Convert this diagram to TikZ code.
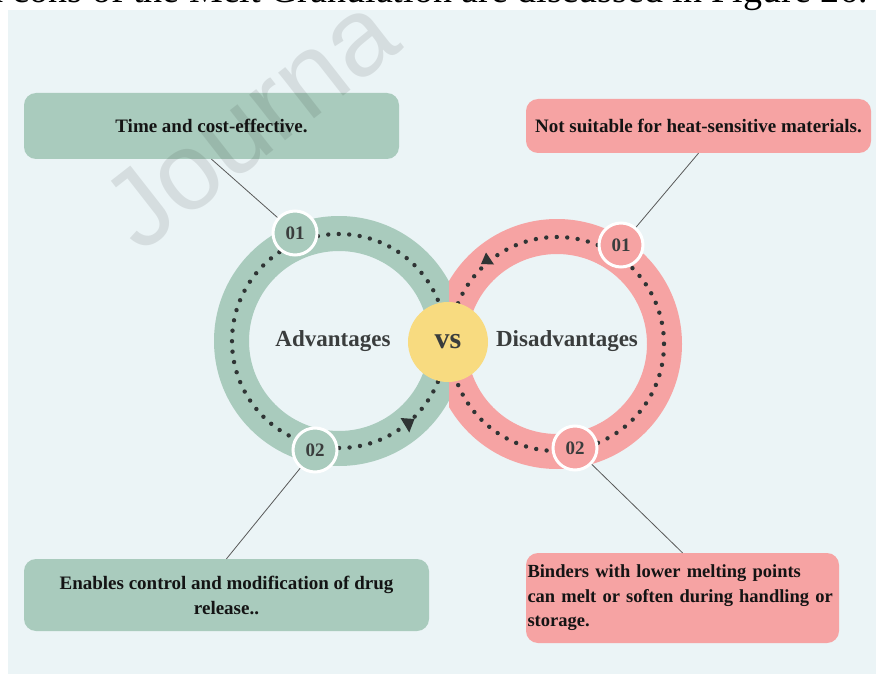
\documentclass[tikz,border=0pt]{standalone}
\usepackage{fontspec}
\setmainfont{Liberation Serif}
\newfontfamily\wmfont{Liberation Sans}
\definecolor{panel}{HTML}{EBF4F6}
\definecolor{ringgreen}{HTML}{A9CBBD}
\definecolor{ringpink}{HTML}{F6A3A3}
\definecolor{vsyellow}{HTML}{F8DB80}
\definecolor{dotc}{HTML}{2F3434}
\definecolor{labelc}{HTML}{3A3D3D}
\definecolor{boxtext}{HTML}{141414}
\begin{document}
\begin{tikzpicture}[x=1pt,y=-1pt,
  infobox/.style={rounded corners=12pt, inner sep=3pt, font=\bfseries\fontsize{19}{25}\selectfont, text=boxtext},
  numnode/.style={circle, draw=white, line width=3pt, minimum size=44pt, inner sep=0pt,
                  font=\bfseries\fontsize{19}{19}\selectfont, text=labelc},
  ringdots/.style={dotc, line width=4.4pt, line cap=round, dash pattern=on 0pt off 10.5pt},
  conn/.style={draw=black!65, line width=0.8pt},
  centerlabel/.style={font=\bfseries\fontsize{23}{23}\selectfont, text=labelc}]
\useasboundingbox (0,0) rectangle (876,674);
\clip (0,0) rectangle (876,674);
\fill[white] (0,0) rectangle (876,674);
\fill[panel] (8,10) rectangle (876,674);

% running text of the page above the figure
\node[anchor=base east, inner sep=0pt, font=\fontsize{38}{40}\selectfont] (head) at (868,3)
  {The pros and cons of the Melt Granulation are discussed in Figure 26.};

% ring centres
\coordinate (gc) at (339,341);
\coordinate (pc) at (557,344);

% green ring with its dotted track
\fill[ringgreen, even odd rule] (gc) circle (125) (gc) circle (90);
\draw[ringdots] (gc) circle (107);

% pink ring, laid over the green one right of the crossing
\begin{scope}
  \clip (449,0) rectangle (876,674);
  \fill[ringpink, even odd rule] (pc) circle (125) (pc) circle (90);
\end{scope}
\draw[ringdots] (pc) circle (107);

% direction marks on the tracks
\fill[dotc] (400.5,418) -- (414.5,419) -- (409.3,432.5) -- cycle;
\fill[dotc] (481,264) -- (486,252.5) -- (494,264.5) -- cycle;

% centre badge
\node[circle, fill=vsyellow, minimum size=80pt, inner sep=0pt,
      font=\bfseries\fontsize{30}{30}\selectfont, text=labelc] (vs) at (448,342) {vs};

% ring titles
\node[centerlabel] (adv) at (333,341) {Advantages};
\node[centerlabel] (dis) at (567,341) {Disadvantages};

% text boxes
\node[infobox, fill=ringgreen, minimum width=375pt, minimum height=66pt] (gb1) at (211.5,126) {Time and cost-effective.};
\node[infobox, fill=ringpink, minimum width=345pt, minimum height=54pt] (pb1) at (698.5,126) {Not suitable for heat-sensitive materials.};
\node[infobox, fill=ringgreen, minimum width=405pt, minimum height=72pt, align=center] (gb2) at (226.5,595)
  {Enables control and modification of drug\\release..};
\node[infobox, fill=ringpink, font=\bfseries\fontsize{18.5}{24.5}\selectfont, inner xsep=1.5pt,
      minimum height=90pt, text width=310pt, align=left] (pb2) at (682.5,598)
  {Binders with lower melting points\\can melt or soften during handling or\\storage.};

% numbered markers
\node[numnode, fill=ringgreen] (g01) at (295,233) {01};
\node[numnode, fill=ringgreen] (g02) at (315,450) {02};
\node[numnode, fill=ringpink] (p01) at (621,245) {01};
\node[numnode, fill=ringpink] (p02) at (575,448) {02};

% leader lines
\draw[conn] (gb1.south) -- (g01);
\draw[conn] (pb1.south) -- (p01);
\draw[conn] (gb2.north) -- (g02);
\draw[conn] (pb2.north) -- (p02);

% journal watermark, cut by the page edge
\node[rotate=38, anchor=base west, inner sep=0pt, text=black, text opacity=0.09,
      font=\wmfont\fontsize{110}{110}\selectfont] (wm) at (140,255) {Journa};
\end{tikzpicture}
\end{document}
